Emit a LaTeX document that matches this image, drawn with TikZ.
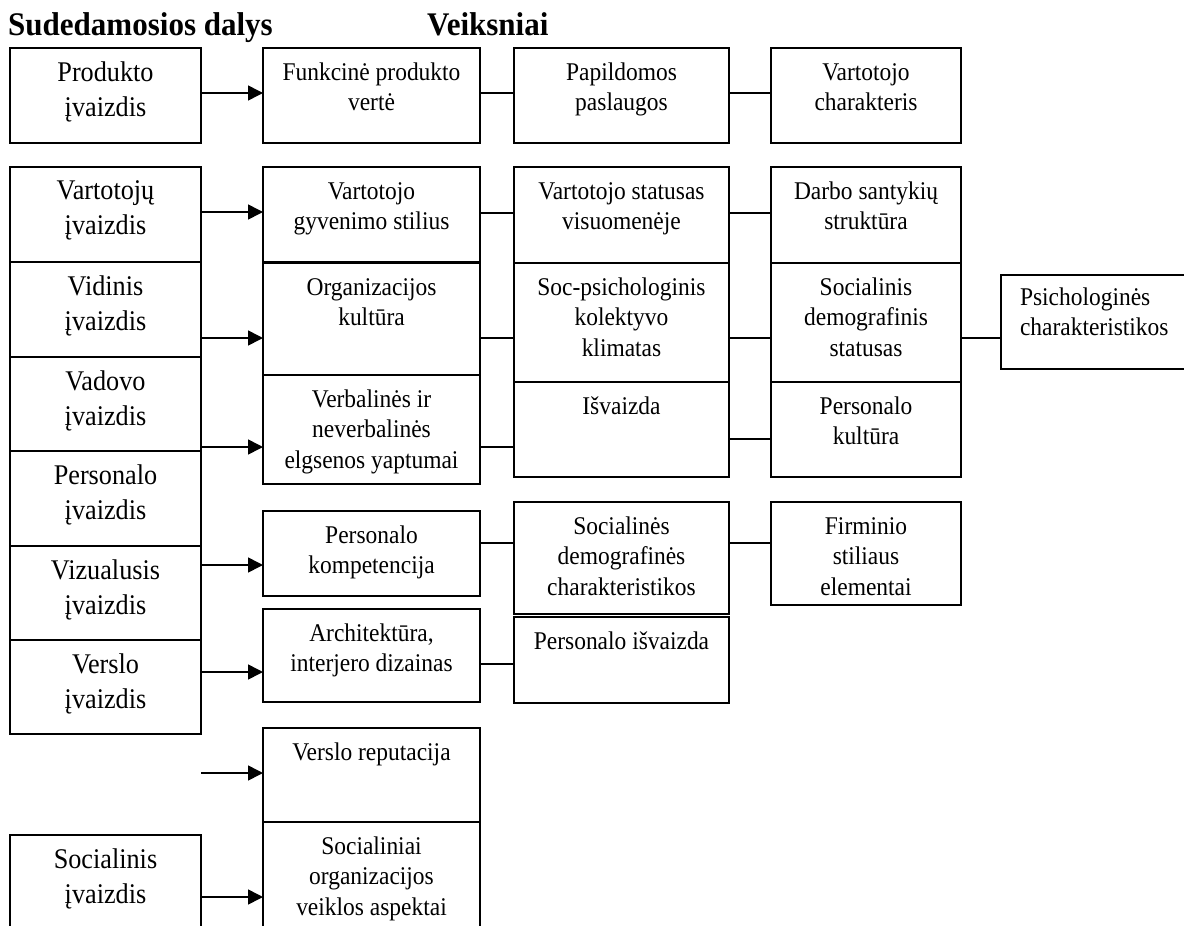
\documentclass[tikz,border=0pt]{standalone}
\usepackage{fontspec}
\setmainfont{Liberation Serif}
\newfontfamily\cellfont{Liberation Serif}[FakeStretch=0.92]
\newfontfamily\headfont{Liberation Serif}[FakeStretch=0.94]
\usetikzlibrary{arrows.meta}

\tikzset{
  box/.style={draw, line width=1.8pt, outer sep=0pt, inner sep=0pt, anchor=north west},
  txt/.style={inner sep=0pt, outer sep=0pt, anchor=north, align=center,
              font=\cellfont\fontsize{25.5}{30.5}\selectfont},
  bigtxt/.style={txt, font=\cellfont\fontsize{28.5}{34.5}\selectfont},
  head/.style={inner sep=0pt, anchor=base west, font=\headfont\bfseries\fontsize{33}{38}\selectfont},
  link/.style={line width=1.6pt},
  arr/.style={link, -{Triangle[length=15pt,width=15pt]}},
}

% a framed cell: name, x1, y1, x2, y2, text style, text
\newcommand\cell[7]{%
  \node[box, minimum width=#4pt-#2pt, minimum height=#5pt-#3pt] (#1) at (#2,#3) {};
  \node[#6] (#1-t) at ([yshift=-14pt]#1.north) {\rule{0pt}{18pt}#7};}

% horizontal connector between two cells at height y
\newcommand\hlink[4]{\draw[#1] (#2.east |- 0,#4) -- (#3.west |- 0,#4);}

\begin{document}
\begin{tikzpicture}[x=1pt, y=-1pt]
\useasboundingbox (0,0) rectangle (1184,926);
\clip (0,0) rectangle (1184,926);

% headings
\node[head] (hcomp) at (8,35) {Sudedamosios dalys};
\node[head] (hfact) at (427,35) {Veiksniai};

% components
\cell{prod}{10}{48}{201}{143}{bigtxt}{Produkto\\įvaizdis}
\cell{vart}{10}{167}{201}{262}{bigtxt}{Vartotojų\\įvaizdis}
\cell{vid}{10}{262}{201}{357}{bigtxt}{Vidinis\\įvaizdis}
\cell{vad}{10}{357}{201}{451}{bigtxt}{Vadovo\\įvaizdis}
\cell{pers}{10}{451}{201}{546}{bigtxt}{Personalo\\įvaizdis}
\cell{viz}{10}{546}{201}{640}{bigtxt}{Vizualusis\\įvaizdis}
\cell{vers}{10}{640}{201}{734}{bigtxt}{Verslo\\įvaizdis}
\cell{soc}{10}{835}{201}{960}{bigtxt}{Socialinis\\įvaizdis}

% factors, first level
\cell{funk}{263}{48}{480}{143}{txt}{Funkcinė produkto\\vertė}
\cell{vgs}{263}{167}{480}{262}{txt}{Vartotojo\\gyvenimo stilius}
\cell{org}{263}{263}{480}{375}{txt}{Organizacijos\\kultūra}
\cell{verb}{263}{375}{480}{484}{txt}{Verbalinės ir\\neverbalinės\\elgsenos yaptumai}
\cell{pk}{263}{511}{480}{596}{txt}{Personalo\\kompetencija}
\cell{arch}{263}{609}{480}{702}{txt}{Architektūra,\\interjero dizainas}
\cell{vr}{263}{728}{480}{822}{txt}{Verslo reputacija}
\cell{sa}{263}{822}{480}{960}{txt}{Socialiniai\\organizacijos\\veiklos aspektai}

% factors, second level
\cell{pap}{514}{48}{729}{143}{txt}{Papildomos\\paslaugos}
\cell{vsv}{514}{167}{729}{263}{txt}{Vartotojo statusas\\visuomenėje}
\cell{sps}{514}{263}{729}{382}{txt}{Soc-psichologinis\\kolektyvo\\klimatas}
\cell{isv}{514}{382}{729}{477}{txt}{Išvaizda}
\cell{sdch}{514}{502}{729}{614}{txt}{Socialinės\\demografinės\\charakteristikos}
\cell{pi}{514}{617}{729}{703}{txt}{Personalo išvaizda}

% factors, third level
\cell{vch}{771}{48}{961}{143}{txt}{Vartotojo\\charakteris}
\cell{dss}{771}{167}{961}{263}{txt}{Darbo santykių\\struktūra}
\cell{sds}{771}{263}{961}{382}{txt}{Socialinis\\demografinis\\statusas}
\cell{pku}{771}{382}{961}{477}{txt}{Personalo\\kultūra}
\cell{fse}{771}{502}{961}{605}{txt}{Firminio\\stiliaus\\elementai}

% factors, fourth level
\node[box, minimum width=200pt, minimum height=94pt] (psi) at (1001,275) {};
\node[txt, anchor=north west, align=left] (psi-t) at (1020,287)
  {\rule{0pt}{18pt}Psichologinės\\charakteristikos};

% arrows from components to factors
\hlink{arr}{prod}{funk}{93}
\hlink{arr}{vart}{vgs}{212}
\hlink{arr}{vid}{org}{338}
\hlink{arr}{vad}{verb}{447}
\hlink{arr}{viz}{pk}{565}
\hlink{arr}{vers}{arch}{672}
\hlink{arr}{soc}{sa}{897}
\coordinate (free) at (201,773);
\draw[arr] (free) -- (vr.west |- free);

% plain links between factors
\hlink{link}{funk}{pap}{93}
\hlink{link}{pap}{vch}{93}
\hlink{link}{vgs}{vsv}{213}
\hlink{link}{vsv}{dss}{213}
\hlink{link}{org}{sps}{338}
\hlink{link}{sps}{sds}{338}
\hlink{link}{sds}{psi}{338}
\hlink{link}{verb}{isv}{447}
\hlink{link}{isv}{pku}{439}
\hlink{link}{pk}{sdch}{543}
\hlink{link}{sdch}{fse}{543}
\hlink{link}{arch}{pi}{664}
\end{tikzpicture}
\end{document}
